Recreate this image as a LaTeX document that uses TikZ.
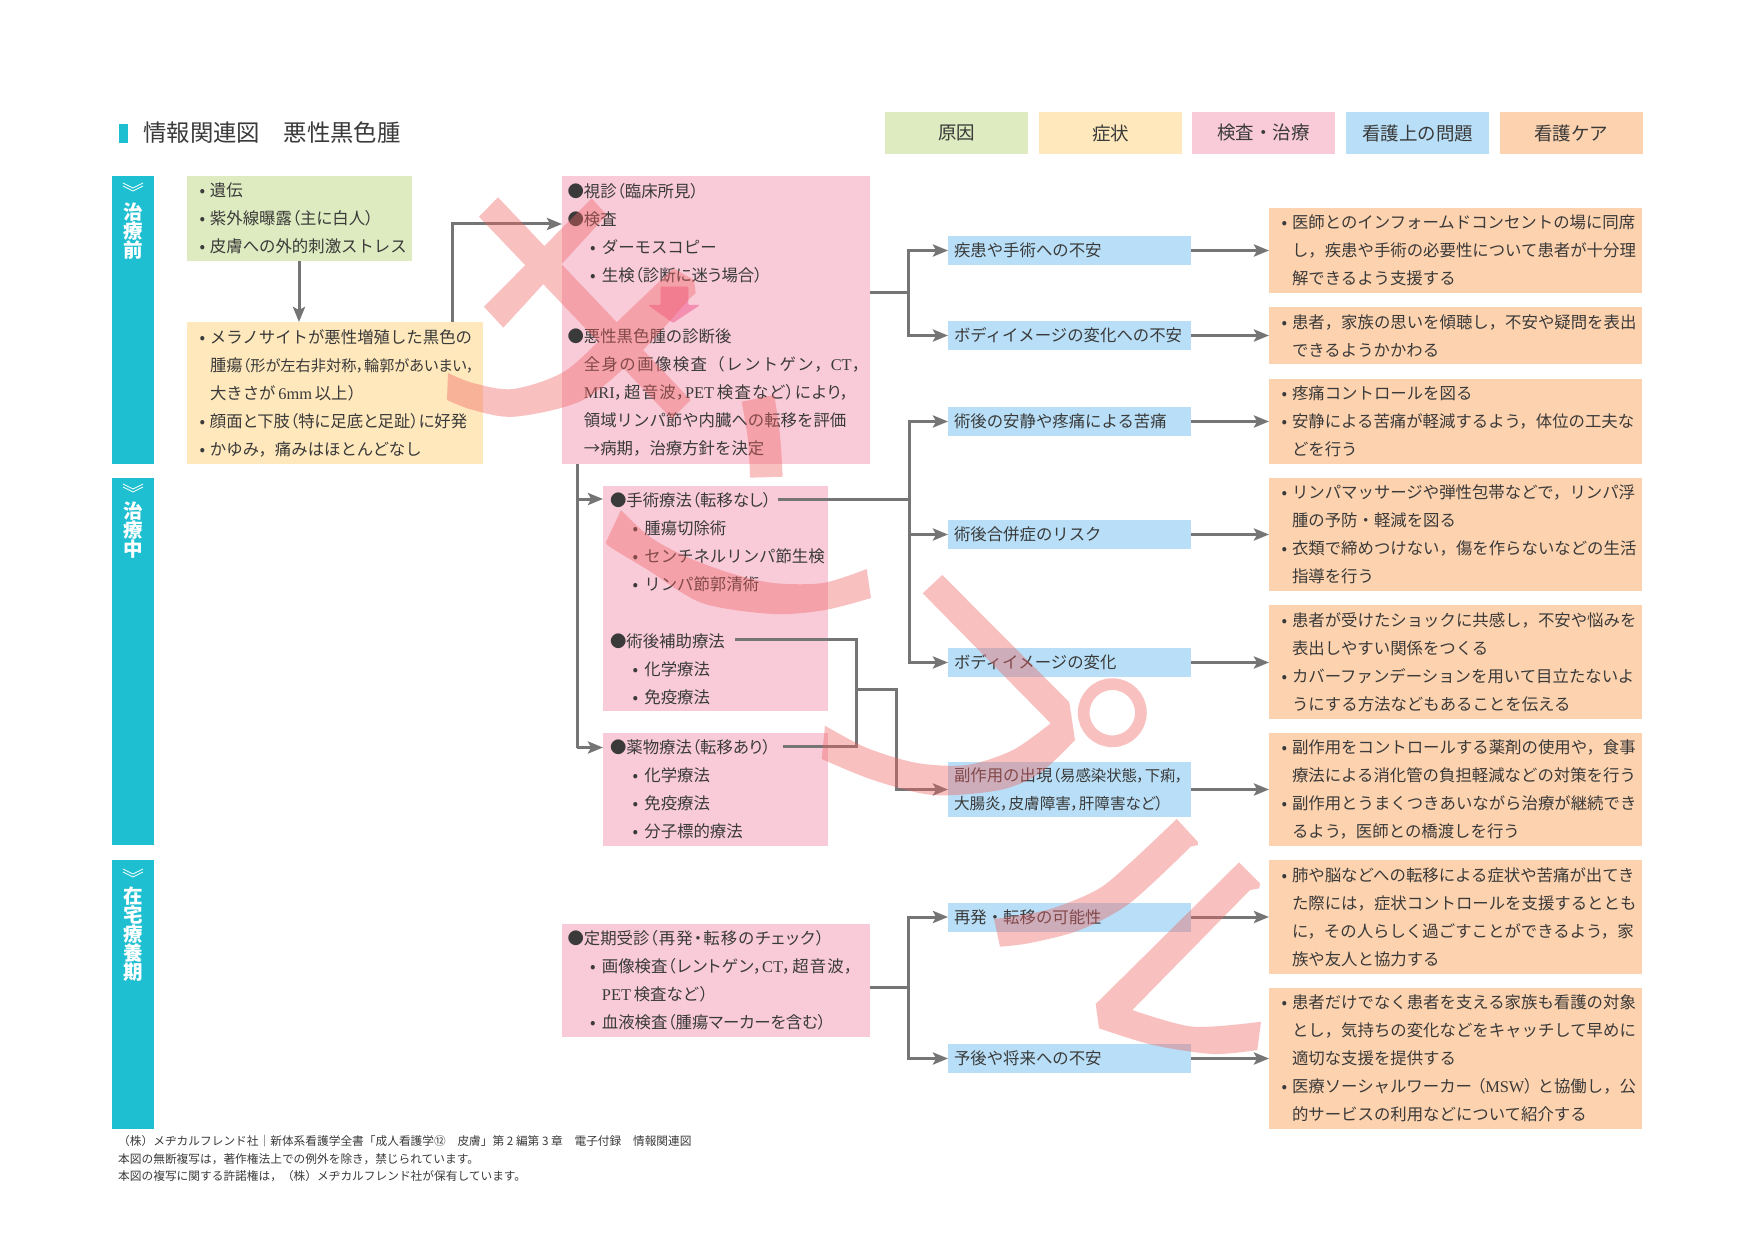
\documentclass[tikz,border=0pt]{standalone}
\usepackage{fontspec}
\setmainfont{Noto Sans CJK JP}
\newfontfamily\latinfont{Liberation Serif}
\usetikzlibrary{arrows.meta}

\definecolor{causeC}{HTML}{DEEABF}
\definecolor{symptomC}{HTML}{FEE8BC}
\definecolor{examC}{HTML}{F9CBD9}
\definecolor{problemC}{HTML}{B8DFF7}
\definecolor{careC}{HTML}{FDD2AE}
\definecolor{bandC}{HTML}{1FBFD2}
\definecolor{lineC}{HTML}{757575}
\definecolor{textC}{HTML}{3A3A3A}
\definecolor{stampC}{HTML}{F06262}
\definecolor{signC}{HTML}{F48FB1}

\newcommand{\bl}{\makebox[15pt][c]{•}}
\newcommand{\ind}{\hspace*{15pt}}
\newcommand{\subbl}{\hspace*{16.4pt}\makebox[18pt][c]{•}}
\newcommand{\subind}{\hspace*{34.4pt}}
\newcommand{\topind}{\hspace*{16.4pt}}
\newcommand{\pal}[1]{{\addfontfeature{RawFeature=+palt}#1}}
\newcommand{\palwide}[1]{{\addfontfeature{RawFeature=+palt,LetterSpace=7}#1}}
\newcommand{\ltn}[1]{{\latinfont #1}}

\tikzset{
    panel/.style={anchor=north west,align=left,inner ysep=0pt,outer sep=0pt,text=textC,
        font=\fontsize{16.4}{28}\selectfont},
    legend/.style={inner sep=0pt,outer sep=0pt,minimum width=143pt,minimum height=41.7pt,
        text=textC,font=\fontsize{18.5}{22}\selectfont},
    band/.style={anchor=north west,inner sep=0pt,outer sep=0pt,fill=bandC,minimum width=42pt},
    bandtext/.style={anchor=north,align=center,inner sep=0pt,text=white,
        font=\bfseries\fontsize{19.5}{19}\selectfont},
    conn/.style={draw=lineC,line width=3pt},
    arr/.style={conn,-{Stealth[length=15pt,width=12pt,inset=3pt]}},
}

\begin{document}
\begin{tikzpicture}[x=1pt,y=-1pt]
    \useasboundingbox (0,0) rectangle (1754,1241);
    \fill[white] (0,0) rectangle (1754,1241);

    % heading and legend
    \fill[bandC] (119,124) rectangle (128,143);
    \node[anchor=west,inner sep=0pt,text=textC,font=\fontsize{23.4}{28}\selectfont] (title) at (143,133) {情報関連図　悪性黒色腫};
    \node[legend,fill=causeC] (keyCause) at (956.5,133) {原因};
    \node[legend,fill=symptomC] (keySymptom) at (1110.5,133) {症状};
    \node[legend,fill=examC] (keyExam) at (1263.5,133) {検査・治療};
    \node[legend,fill=problemC] (keyProblem) at (1417.5,133) {看護上の問題};
    \node[legend,fill=careC] (keyCare) at (1571,133) {看護ケア};

    % stages
    \node[band,minimum height=288pt] (stageBefore) at (112,176) {};
    \node[band,minimum height=367pt] (stageDuring) at (112,478) {};
    \node[band,minimum height=269pt] (stageHome) at (112,860) {};
    \node[bandtext] (labelBefore) at (133,203) {治\\療\\前};
    \node[bandtext] (labelDuring) at (133,502) {治\\療\\中};
    \node[bandtext] (labelHome) at (133,887) {在\\宅\\療\\養\\期};
    \foreach \y in {183,484,869} {
        \draw[white,line width=0.8pt] (123,\y) -- (133,\y+5) -- (143,\y);
        \draw[white,line width=0.8pt] (123,\y+3) -- (133,\y+8) -- (143,\y+3);
    }

    % left column
    \node[panel,fill=causeC,minimum height=85pt,text width=209pt,inner xsep=8pt] (cause) at (187,176)
        {\bl 遺伝\\\bl 紫外線曝露\pal{（主に白人）}\\\bl 皮膚への外的刺激ストレス};
    \node[panel,fill=symptomC,minimum height=142pt,text width=280pt,inner xsep=8pt] (symptom) at (187,322)
        {\bl メラノサイトが悪性増殖した黒色の\\
         \ind 腫瘍{\fontsize{15.2}{28}\selectfont\pal{（形が左右非対称，輪郭があいまい，}}\\
         \ind 大きさが\,\ltn{6mm}\,以上）\\
         \bl \pal{顔面と下肢（特に足底と足趾）に好発}\\
         \bl かゆみ，痛みはほとんどなし};

    % examination and treatment
    \node[panel,fill=examC,minimum height=288pt,text width=297pt,inner xsep=5.5pt] (exam) at (562,176)
        {●視診\pal{（臨床所見）}\\
         ●検査\\
         \subbl ダーモスコピー\\
         \subbl 生検\pal{（診断に迷う場合）}\\[33.7pt]
         ●悪性黒色腫の診断後\\
         \topind{\addfontfeature{LetterSpace=8.5}全身の画像検査（レントゲン，\ltn{CT}，}\\
         \topind\palwide{\ltn{MRI}，超音波，\ltn{PET}\,検査など）により，}\\
         \topind 領域リンパ節や内臓への転移を評価\\
         \topind →病期，治療方針を決定};
    \node[panel,fill=examC,minimum height=225pt,text width=211pt,inner xsep=7pt] (surgery) at (603,486)
        {●手術療法\pal{（転移なし）}\\
         \subbl 腫瘍切除術\\
         \subbl センチネルリンパ節生検\\
         \subbl リンパ節郭清術\\[29pt]
         ●術後補助療法\\
         \subbl 化学療法\\
         \subbl 免疫療法};
    \node[panel,fill=examC,minimum height=113pt,text width=211pt,inner xsep=7pt] (drug) at (603,733)
        {●薬物療法\pal{（転移あり）}\\
         \subbl 化学療法\\
         \subbl 免疫療法\\
         \subbl 分子標的療法};
    \node[panel,fill=examC,minimum height=113pt,text width=297pt,inner xsep=5.5pt] (followup) at (562,924)
        {●定期受診\palwide{（再発・転移のチェック）}\\
         \subbl 画像検査\palwide{（レントゲン，\ltn{CT}，超音波，}\\
         \subind\ltn{PET}\,検査など）\\
         \subbl 血液検査\pal{（腫瘍マーカーを含む）}};

    % nursing problems
    \node[panel,fill=problemC,minimum height=29pt,text width=231pt,inner xsep=6pt] (prob1) at (948,236) {疾患や手術への不安};
    \node[panel,fill=problemC,minimum height=29pt,text width=231pt,inner xsep=6pt] (prob2) at (948,321) {ボディイメージの変化への不安};
    \node[panel,fill=problemC,minimum height=29pt,text width=231pt,inner xsep=6pt] (prob3) at (948,407) {術後の安静や疼痛による苦痛};
    \node[panel,fill=problemC,minimum height=29pt,text width=231pt,inner xsep=6pt] (prob4) at (948,520) {術後合併症のリスク};
    \node[panel,fill=problemC,minimum height=29pt,text width=231pt,inner xsep=6pt] (prob5) at (948,648) {ボディイメージの変化};
    \node[panel,fill=problemC,minimum height=55pt,text width=231pt,inner xsep=6pt] (prob6) at (948,762)
        {副作用の出現{\fontsize{15.4}{28}\selectfont\pal{（易感染状態，下痢，}}\\{\fontsize{15.6}{28}\selectfont\pal{大腸炎，皮膚障害，肝障害など）}}};
    \node[panel,fill=problemC,minimum height=29pt,text width=231pt,inner xsep=6pt] (prob7) at (948,902.5) {再発・転移の可能性};
    \node[panel,fill=problemC,minimum height=29pt,text width=231pt,inner xsep=6pt] (prob8) at (948,1044) {予後や将来への不安};

    % nursing care
    \node[panel,fill=careC,minimum height=85pt,text width=357pt,inner xsep=8pt] (care1) at (1269,208)
        {\bl 医師とのインフォームドコンセントの場に同席\\
         \ind し，疾患や手術の必要性について患者が十分理\\
         \ind 解できるよう支援する};
    \node[panel,fill=careC,minimum height=57pt,text width=357pt,inner xsep=8pt] (care2) at (1269,307)
        {\bl 患者，家族の思いを傾聴し，不安や疑問を表出\\
         \ind できるようかかわる};
    \node[panel,fill=careC,minimum height=85pt,text width=357pt,inner xsep=8pt] (care3) at (1269,379)
        {\bl 疼痛コントロールを図る\\
         \bl 安静による苦痛が軽減するよう，体位の工夫な\\
         \ind どを行う};
    \node[panel,fill=careC,minimum height=113pt,text width=357pt,inner xsep=8pt] (care4) at (1269,478)
        {\bl リンパマッサージや弾性包帯などで，リンパ浮\\
         \ind 腫の予防・軽減を図る\\
         \bl 衣類で締めつけない，傷を作らないなどの生活\\
         \ind 指導を行う};
    \node[panel,fill=careC,minimum height=113.6pt,text width=357pt,inner xsep=8pt] (care5) at (1269,605)
        {\bl 患者が受けたショックに共感し，不安や悩みを\\
         \ind 表出しやすい関係をつくる\\
         \bl カバーファンデーションを用いて目立たないよ\\
         \ind うにする方法などもあることを伝える};
    \node[panel,fill=careC,minimum height=113pt,text width=357pt,inner xsep=8pt] (care6) at (1269,733)
        {\bl 副作用をコントロールする薬剤の使用や，食事\\
         \ind 療法による消化管の負担軽減などの対策を行う\\
         \bl 副作用とうまくつきあいながら治療が継続でき\\
         \ind るよう，医師との橋渡しを行う};
    \node[panel,fill=careC,minimum height=113.6pt,text width=357pt,inner xsep=8pt] (care7) at (1269,860)
        {\bl 肺や脳などへの転移による症状や苦痛が出てき\\
         \ind た際には，症状コントロールを支援するととも\\
         \ind に，その人らしく過ごすことができるよう，家\\
         \ind 族や友人と協力する};
    \node[panel,fill=careC,minimum height=140.6pt,text width=357pt,inner xsep=8pt] (care8) at (1269,988)
        {\bl 患者だけでなく患者を支える家族も看護の対象\\
         \ind とし，気持ちの変化などをキャッチして早めに\\
         \ind 適切な支援を提供する\\
         \bl 医療ソーシャルワーカー\kern5pt\pal{（\ltn{MSW}）}\kern5pt と協働し，公\\
         \ind 的サービスの利用などについて紹介する};

    % footer
    \node[anchor=north west,align=left,inner sep=0pt,text=textC,font=\fontsize{11.7}{17.5}\selectfont] (credit) at (118,1135)
        {（株）メヂカルフレンド社｜新体系看護学全書「成人看護学⑫　皮膚」第 2 編第 3 章　電子付録　情報関連図\\
         本図の無断複写は，著作権法上での例外を除き，禁じられています。\\
         本図の複写に関する許諾権は，（株）メヂカルフレンド社が保有しています。};

    % junctions
    \coordinate (jExam) at (908,293);
    \coordinate (jDown) at (577,464);
    \coordinate (jDrug) at (577,747.5);
    \coordinate (jSurgery) at (909,499);
    \coordinate (adjStart) at (735,639);
    \coordinate (adjDrop) at (856,639);
    \coordinate (drugStart) at (782.6,746);
    \coordinate (adjTee) at (856,689);
    \coordinate (sideDrop) at (896,689);
    \coordinate (jFollow) at (908,987);
    \coordinate (surgeryStart) at (778,499);
    \coordinate (symUp) at (452,322);
    \coordinate (causeDown) at (299,261);
    \coordinate (examIn) at (562,224);

    % connectors
    \draw[arr] (causeDown) -- (causeDown |- symptom.north);
    \draw[arr] (symUp) |- (examIn);
    \draw[conn] (exam.east |- jExam) -- (jExam);
    \draw[arr] (jExam) |- (prob1.west);
    \draw[arr] (jExam) |- (prob2.west);
    \draw[conn] (jDown) -- (jDrug);
    \draw[arr] (jDown |- surgeryStart) -- (surgery.west |- surgeryStart);
    \draw[arr] (jDrug) -- (drug.west |- jDrug);
    \draw[conn] (surgeryStart) -- (jSurgery);
    \draw[arr] (jSurgery) |- (prob3.west);
    \draw[arr] (jSurgery) |- (prob4.west);
    \draw[arr] (jSurgery) |- (prob5.west);
    \draw[conn] (adjStart) -- (adjDrop) -- (adjDrop |- drugStart) -- (drugStart);
    \draw[arr] (adjTee) -- (sideDrop) |- (prob6.west);
    \draw[conn] (followup.east |- jFollow) -- (jFollow);
    \draw[arr] (jFollow) |- (prob7.west);
    \draw[arr] (jFollow) |- (prob8.west);
    \foreach \n in {1,...,8} {
        \draw[arr] (prob\n.east) -- (prob\n.east -| care\n.west);
    }

    % pink arrow between the two stages of diagnosis
    \fill[rounded corners=1pt,fill=signC] (660.7,286.7) -- (688.3,286.7) -- (688.3,305) -- (700,305) -- (673,323) -- (648,305) -- (660.7,305) -- cycle;

    % stamp across the sheet
    \begin{scope}[opacity=0.4,transparency group]
    \fill[stampC] (498,197.3) -- (690.7,400) -- (671.7,419) -- (479,216.7) -- cycle;
    \fill[stampC] (591.7,198.3) -- (606.7,215) -- (503.3,327.7) -- (484,306.7) -- cycle;
    \fill[stampC] (673.3,268.3) -- plot[smooth] coordinates {(620,319) (566.7,370) (513.3,389) (473,383) (448,373)}
        -- plot[smooth] coordinates {(447,400) (473,410) (515,416.7) (583,400) (640,353) (690,298)}
        -- (695.7,293.3) -- (694,280) -- cycle;
    \fill[stampC] plot[smooth] coordinates {(741.7,401.7) (748,440) (750,477.7)}
        -- plot[smooth] coordinates {(782.7,476.7) (780,435) (774.3,395)} -- cycle;
    \fill[stampC] plot[smooth] coordinates {(866.7,569) (823,583) (773,583) (730,573) (687,557) (650,537) (621,510)}
        -- plot[smooth] coordinates {(606,542) (610,547) (648,570) (702,603) (773,614) (825,610) (871,598)} -- cycle;
    \fill[stampC] (942.3,575) -- (1069.3,702.3) -- (1075,740)
        -- plot[smooth] coordinates {(1075,740) (1040,773) (1000,790) (933,795) (873,780) (821.7,759)}
        -- plot[smooth] coordinates {(825,725.7) (867,748) (917,763) (967,765) (1013,750) (1050.7,723.3)}
        -- (922.7,593.3) -- cycle;
    \draw[stampC,line width=11.7pt] (1112.3,712.7) circle (28.6);
    \fill[stampC] (1176.7,819) -- (1197.7,841.7) -- (1198,845) -- (1190.7,846.7)
        -- plot[smooth] coordinates {(1190.7,846.7) (1130,903) (1080,930) (1030,943) (1000,946.7)}
        -- plot[smooth] coordinates {(994,919) (1046.7,910) (1096.7,890) (1130,863) (1176.7,819)} -- cycle;
    \fill[stampC] (1239,862.3) -- (1260,883.3) -- (1259.3,888.3) -- (1250,890) -- (1132.3,1010)
        -- plot[smooth] coordinates {(1132.3,1010) (1193,1026.7) (1261,1021.7)} -- (1257.3,1050)
        -- plot[smooth] coordinates {(1257.3,1050) (1213,1054) (1153,1045) (1099,1028.3)} -- (1095.7,1004) -- cycle;
    \end{scope}
\end{tikzpicture}
\end{document}
